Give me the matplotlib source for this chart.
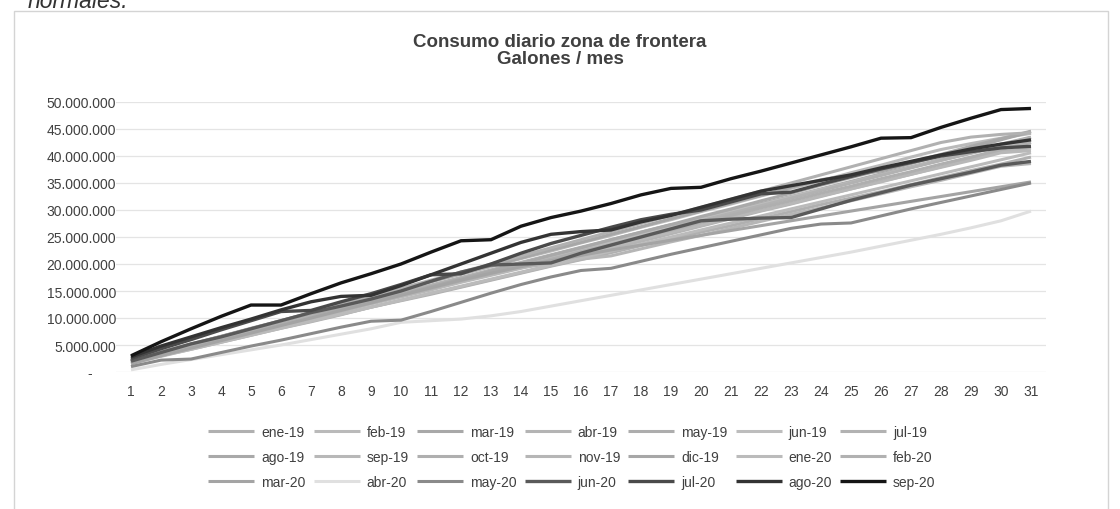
import matplotlib
matplotlib.use("Agg")
import matplotlib.pyplot as plt
from matplotlib.patches import Rectangle
from matplotlib.ticker import FuncFormatter, MultipleLocator

plt.rcParams['font.family'] = ['Liberation Sans', 'DejaVu Sans']

days = list(range(1, 32))

# Values in millions of gallons (cumulative daily consumption)
ene_19 = [1.8, 3.0, 4.2, 5.5, 6.8, 8.1, 9.3, 10.6, 12.0, 13.2, 14.4, 15.7, 17.0, 18.3, 19.6, 20.8, 22.1, 23.4, 24.6, 25.9, 27.1, 28.4, 29.7, 31.0, 32.2, 33.4, 34.7, 36.0, 37.3, 38.5, 39.8]
feb_19 = [2.0, 3.5, 5.0, 6.4, 7.9, 9.4, 10.8, 12.3, 13.7, 15.2, 16.7, 18.1, 19.5, 21.0, 22.4, 23.9, 25.3, 26.8, 28.2, 29.7, 31.1, 32.6, 34.0, 35.4, 36.9, 38.3, 39.8, 41.2, 42.3, 43.3, 44.2]
mar_19 = [2.2, 3.6, 5.0, 6.2, 7.4, 8.8, 10.3, 11.8, 13.3, 14.6, 15.9, 17.3, 18.8, 20.2, 21.6, 23.0, 24.3, 25.6, 27.0, 28.4, 29.8, 31.0, 32.3, 33.7, 35.1, 36.5, 37.9, 39.2, 40.5, 41.8, 43.0]
abr_19 = [1.9, 3.3, 4.7, 6.1, 7.5, 8.9, 10.2, 11.5, 12.9, 14.3, 15.7, 17.1, 18.4, 19.3, 20.1, 21.4, 22.8, 24.2, 25.6, 27.0, 28.4, 29.8, 31.1, 32.5, 33.9, 35.3, 36.6, 38.0, 39.4, 40.8, 41.5]
may_19 = [2.1, 3.5, 4.9, 6.3, 7.7, 9.0, 10.4, 11.8, 13.2, 14.6, 16.0, 17.4, 18.7, 20.1, 21.5, 22.9, 24.3, 25.6, 27.0, 28.4, 29.8, 31.2, 32.5, 33.9, 35.3, 36.7, 38.0, 39.4, 40.8, 42.2, 43.5]
jun_19 = [2.0, 3.4, 4.8, 6.2, 7.6, 8.9, 10.3, 11.7, 13.1, 14.5, 15.8, 17.2, 18.6, 20.0, 21.3, 22.7, 24.1, 25.5, 26.9, 28.2, 29.6, 31.0, 32.4, 33.8, 35.1, 36.5, 37.9, 39.3, 40.6, 42.0, 42.5]
jul_19 = [2.1, 3.5, 4.9, 6.3, 7.7, 9.1, 10.5, 11.9, 13.3, 14.7, 16.1, 17.5, 18.9, 20.3, 21.7, 23.1, 24.5, 25.9, 27.3, 28.0, 29.4, 30.8, 32.2, 33.6, 35.0, 36.4, 37.8, 39.2, 40.6, 42.0, 43.4]
ago_19 = [2.2, 3.7, 5.1, 6.6, 8.0, 9.4, 10.9, 11.5, 12.9, 14.3, 15.8, 17.2, 18.7, 20.1, 21.6, 23.0, 24.5, 25.9, 27.3, 28.8, 30.2, 31.7, 33.1, 34.6, 36.0, 37.4, 38.9, 40.3, 41.8, 43.2, 44.6]
sep_19 = [1.9, 3.2, 4.6, 5.9, 7.2, 8.6, 9.9, 11.2, 12.6, 13.9, 15.2, 16.6, 17.9, 19.2, 20.6, 21.9, 23.2, 24.6, 25.9, 27.2, 28.6, 29.9, 31.2, 32.6, 33.9, 35.2, 36.6, 37.9, 39.2, 40.6, 41.0]
oct_19 = [2.0, 3.4, 4.7, 6.1, 7.4, 8.8, 10.1, 11.5, 12.8, 14.2, 15.5, 16.9, 18.2, 19.6, 20.9, 22.3, 23.6, 25.0, 26.3, 27.7, 29.0, 30.4, 31.7, 33.1, 34.4, 35.8, 37.1, 38.5, 39.8, 41.2, 42.5]
nov_19 = [1.8, 3.1, 4.4, 5.6, 6.9, 8.2, 9.5, 10.7, 12.0, 13.3, 14.6, 15.8, 17.1, 18.4, 19.7, 20.9, 21.5, 22.8, 24.1, 25.3, 26.6, 27.9, 29.2, 30.4, 31.7, 33.0, 34.3, 35.5, 36.8, 38.1, 38.6]
dic_19 = [2.3, 3.7, 5.2, 6.6, 8.1, 9.5, 11.0, 12.4, 13.9, 15.3, 16.8, 18.2, 19.7, 21.1, 22.6, 24.0, 25.5, 26.9, 28.4, 29.8, 31.3, 32.7, 34.2, 35.6, 36.5, 37.2, 38.6, 40.1, 41.5, 43.0, 44.5]
ene_20 = [1.6, 2.9, 4.2, 5.5, 6.8, 8.1, 9.4, 10.7, 12.0, 13.3, 14.6, 15.9, 17.2, 18.5, 19.8, 21.1, 22.4, 23.7, 25.0, 26.3, 27.6, 28.9, 30.2, 31.5, 32.8, 34.1, 35.4, 36.7, 38.0, 39.3, 40.6]
feb_20 = [2.0, 3.5, 5.0, 6.5, 8.0, 9.5, 11.0, 12.5, 14.0, 15.5, 17.0, 18.5, 20.0, 21.5, 23.0, 24.5, 26.0, 27.5, 29.0, 30.5, 32.0, 33.5, 35.0, 36.5, 38.0, 39.5, 41.0, 42.5, 43.5, 44.0, 44.3]
mar_20 = [1.5, 3.0, 4.4, 5.8, 7.2, 8.6, 10.0, 11.4, 12.8, 14.2, 15.6, 17.0, 18.3, 19.5, 20.6, 21.6, 22.6, 23.5, 24.4, 25.3, 26.2, 27.1, 28.0, 28.9, 29.8, 30.7, 31.6, 32.5, 33.4, 34.3, 35.2]
abr_20 = [0.4, 1.4, 2.3, 3.2, 4.1, 5.0, 6.0, 7.0, 8.0, 9.2, 9.5, 9.8, 10.4, 11.2, 12.2, 13.2, 14.2, 15.2, 16.2, 17.2, 18.2, 19.2, 20.2, 21.2, 22.2, 23.3, 24.4, 25.5, 26.7, 28.0, 29.8]
may_20 = [1.0, 2.2, 2.4, 3.6, 4.8, 5.9, 7.1, 8.3, 9.4, 9.6, 11.2, 12.9, 14.6, 16.2, 17.6, 18.8, 19.2, 20.5, 21.8, 23.0, 24.2, 25.4, 26.6, 27.4, 27.6, 28.9, 30.2, 31.4, 32.6, 33.8, 35.0]
jun_20 = [2.0, 3.6, 5.2, 6.5, 8.0, 9.5, 11.0, 12.2, 13.5, 15.0, 16.8, 18.5, 19.8, 20.0, 20.2, 22.0, 23.5, 25.0, 26.5, 28.0, 28.3, 28.5, 28.6, 30.2, 31.8, 33.2, 34.6, 35.8, 37.0, 38.3, 39.0]
jul_20 = [2.5, 4.3, 6.0, 7.8, 9.5, 11.2, 11.4, 13.0, 14.5, 16.2, 18.0, 18.2, 20.0, 22.0, 23.8, 25.3, 26.8, 28.2, 29.2, 30.0, 31.5, 33.0, 33.3, 34.8, 36.2, 37.6, 38.8, 40.0, 40.8, 41.5, 41.8]
ago_20 = [2.8, 4.8, 6.5, 8.2, 9.8, 11.5, 13.0, 14.0, 14.2, 16.0, 18.0, 20.0, 22.0, 24.0, 25.5, 26.0, 26.3, 27.8, 29.0, 30.5, 32.0, 33.5, 34.5, 35.5, 36.5, 37.8, 39.0, 40.2, 41.3, 42.2, 43.0]
sep_20 = [3.0, 5.6, 8.0, 10.3, 12.4, 12.4, 14.5, 16.5, 18.2, 20.0, 22.2, 24.3, 24.5, 27.0, 28.6, 29.8, 31.2, 32.8, 34.0, 34.2, 35.8, 37.2, 38.7, 40.2, 41.7, 43.3, 43.4, 45.3, 47.0, 48.6, 48.8]

series_labels = ['ene-19', 'feb-19', 'mar-19', 'abr-19', 'may-19', 'jun-19', 'jul-19',
                 'ago-19', 'sep-19', 'oct-19', 'nov-19', 'dic-19', 'ene-20', 'feb-20',
                 'mar-20', 'abr-20', 'may-20', 'jun-20', 'jul-20', 'ago-20', 'sep-20']
series_values = [ene_19, feb_19, mar_19, abr_19, may_19, jun_19, jul_19,
                 ago_19, sep_19, oct_19, nov_19, dic_19, ene_20, feb_20,
                 mar_20, abr_20, may_20, jun_20, jul_20, ago_20, sep_20]

colors = ['#b0b0b0', '#bababa', '#a8a8a8', '#b4b4b4', '#adadad', '#bdbdbd', '#b2b2b2',
          '#a9a9a9', '#b8b8b8', '#afafaf', '#b6b6b6', '#a7a7a7', '#bbbbbb', '#b1b1b1',
          '#a4a4a4', '#e0e0e0', '#8a8a8a', '#5a5a5a', '#4a4a4a', '#333333', '#151515']
widths = [2.2] * 16 + [2.2, 2.4, 2.4, 2.4, 2.4]

fig = plt.figure(figsize=(11.2, 5.1), dpi=100)

# frame and cut-off text above the chart (as in the scanned reference)
fig.patches.append(Rectangle((14 / 1120, -0.05), 1094 / 1120, 1 - 12 / 510 + 0.05,
                             transform=fig.transFigure, fill=False,
                             edgecolor='#d4d4d4', linewidth=1.0))
fig.text(28 / 1120, 1 - 8 / 510, 'normales.', fontsize=16.5, style='italic',
         color='#333333', ha='left', va='baseline')

ax = fig.add_axes([116 / 1120, 137 / 510, 930 / 1120, 270 / 510])

for vals, lab, c, w in zip(series_values, series_labels, colors, widths):
    ax.plot(days, [v * 1e6 for v in vals], color=c, lw=w, label=lab,
            solid_joinstyle='round', solid_capstyle='butt')

ax.set_xlim(0.5, 31.5)
ax.set_ylim(0, 50e6)
ax.set_xticks(days)
ax.yaxis.set_major_locator(MultipleLocator(5e6))


def fmt(v, pos):
    if abs(v) < 1:
        return '-      '
    return f'{v:,.0f}'.replace(',', '.')


ax.yaxis.set_major_formatter(FuncFormatter(fmt))
ax.tick_params(axis='both', length=0, labelsize=10, colors='#404040')
ax.tick_params(axis='x', pad=9)
ax.tick_params(axis='y', pad=0)
for s in ax.spines.values():
    s.set_visible(False)
ax.grid(axis='y', color='#e4e4e4', lw=0.9)
ax.set_axisbelow(True)

fig.text(0.5, 1 - 51 / 510,
         'Consumo diario zona de frontera\nGalones / mes',
         ha='center', va='center', fontsize=13.5, fontweight='bold',
         color='#404040', linespacing=1.05)

handles, labels = ax.get_legend_handles_labels()
# reorder so legend rows read left-to-right (matplotlib fills column-wise)
ncol = 7
nrow = 3
order = []
for c in range(ncol):
    for r in range(nrow):
        order.append(r * ncol + c)
leg = fig.legend([handles[i] for i in order], [labels[i] for i in order],
                 loc='center', bbox_to_anchor=(572 / 1120, 1 - 458 / 510),
                 ncol=ncol, frameon=False, fontsize=10, handlelength=3.3,
                 handletextpad=0.5, columnspacing=0.6, labelspacing=0.78,
                 borderpad=0)
for t in leg.get_texts():
    t.set_color('#404040')

fig.savefig('out.png', dpi=100, facecolor='white')
